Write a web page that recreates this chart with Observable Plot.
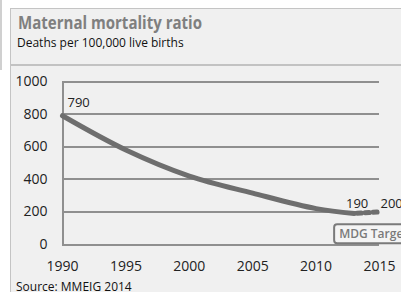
<!DOCTYPE html>
<html><head><meta charset="utf-8">
<script src="https://cdn.jsdelivr.net/npm/d3@7"></script>
<script src="https://cdn.jsdelivr.net/npm/@observablehq/plot@0.6"></script>
<style>
body{margin:0;background:#fff;width:401px;height:292px;overflow:hidden;position:relative;font-family:"Open Sans",sans-serif;}
#panel{position:absolute;left:10px;top:8px;width:420px;height:320px;background:#f0f0f0;border-left:1px solid #c4c4c4;border-top:1px solid #c4c4c4;}
#sep{position:absolute;left:11px;top:64px;width:400px;height:2px;background:#c2c2c2;}
#title{position:absolute;left:18px;top:13px;font-size:18px;line-height:1;font-weight:700;color:#7f7f7f;white-space:nowrap;transform-origin:0 0;}
#subtitle{position:absolute;left:17px;top:37px;font-size:12px;line-height:1;color:#111;white-space:nowrap;}
#chart{position:absolute;left:0;top:65px;}
#source{position:absolute;left:16px;top:281px;font-size:12px;line-height:1;color:#111;white-space:nowrap;}
#edge{position:absolute;left:0;top:0;width:2px;height:70px;background:#d0d0d0;}
</style></head>
<body>
<div id="edge"></div>
<div id="panel"></div>
<div id="title">Maternal mortality ratio</div>
<div id="subtitle">Deaths per 100,000 live births</div>
<div id="sep"></div>
<div id="chart"></div>
<div id="source">Source: MMEIG 2014</div>
<script>
const years = [1990, 1995, 2000, 2005, 2010, 2013];
const mmr = [790, 580, 420, 315, 220, 190];
const targetYears = [2013, 2015];
const targetValues = [190, 200];
const xTicks = [1990, 1995, 2000, 2005, 2010, 2015];
const yTicks = [0, 200, 400, 600, 800, 1000];
const targetLabel = "MDG Target";

const main = years.map((y, i) => ({year: y, value: mmr[i]}));
const target = targetYears.map((y, i) => ({year: y, value: targetValues[i]}));
const gray = "#6e6e6e";
const ruleGray = "#8f8f8f";

const plot = Plot.plot({
  width: 401, height: 227,
  marginLeft: 62, marginRight: 22, marginTop: 16, marginBottom: 48,
  style: {background: "transparent", fontFamily: "Open Sans", fontSize: "14px", color: "#222", overflow: "visible"},
  x: {domain: [1990, 2015], label: null},
  y: {domain: [0, 1000], label: null},
  marks: [
    Plot.gridY(yTicks, {stroke: ruleGray, strokeOpacity: 1, strokeWidth: 2, shapeRendering: "crispEdges"}),
    Plot.gridX([xTicks[0]], {stroke: ruleGray, strokeOpacity: 1, strokeWidth: 2, shapeRendering: "crispEdges"}),
    Plot.axisY({ticks: yTicks, tickSize: 0, tickPadding: 15, fontSize: 14, tickFormat: d => String(d), label: null}),
    Plot.axisX({ticks: xTicks, tickSize: 0, tickPadding: 17, fontSize: 14, tickFormat: d => String(d), label: null}),
    Plot.line(target, {x: "year", y: "value", stroke: gray, strokeWidth: 5, strokeDasharray: "4,4", strokeDashoffset: -3}),
    Plot.line(main, {x: "year", y: "value", stroke: gray, strokeWidth: 5, curve: "catmull-rom"}),
    Plot.text([main[0]], {x: "year", y: "value", text: d => String(d.value), textAnchor: "start", dx: 5, dy: -13, fontSize: 13, fill: "#222"}),
    Plot.text([main[main.length - 1]], {x: "year", y: "value", text: d => String(d.value), dx: 3, dy: -10, fontSize: 13, fill: "#222"}),
    Plot.text([target[target.length - 1]], {x: "year", y: "value", text: d => String(d.value), textAnchor: "start", dx: 1, dy: -8.5, fontSize: 13, fill: "#222"}),
    Plot.text([main[main.length - 1]], {x: "year", y: "value", text: () => targetLabel, textAnchor: "start", dx: -15, dy: 21, fontSize: 12, fontWeight: 600, fill: "#7a7a7a", className: "mdg"})
  ]
});
document.getElementById("chart").appendChild(plot);
const t = plot.querySelector(".mdg text");
if (t) {
  const b = t.getBBox();
  d3.select(t.parentNode).insert("rect", "text")
    .attr("transform", t.getAttribute("transform"))
    .attr("x", b.x - 5).attr("y", b.y - 1).attr("width", b.width + 30).attr("height", b.height + 2)
    .attr("rx", 3).attr("fill", "#f4f4f4").attr("stroke", "#7a7a7a").attr("stroke-width", 2);
}
const title = document.getElementById("title");
const w = title.getBoundingClientRect().width;
title.style.transform = `scaleX(${184 / w})`;
</script>
</body></html>
